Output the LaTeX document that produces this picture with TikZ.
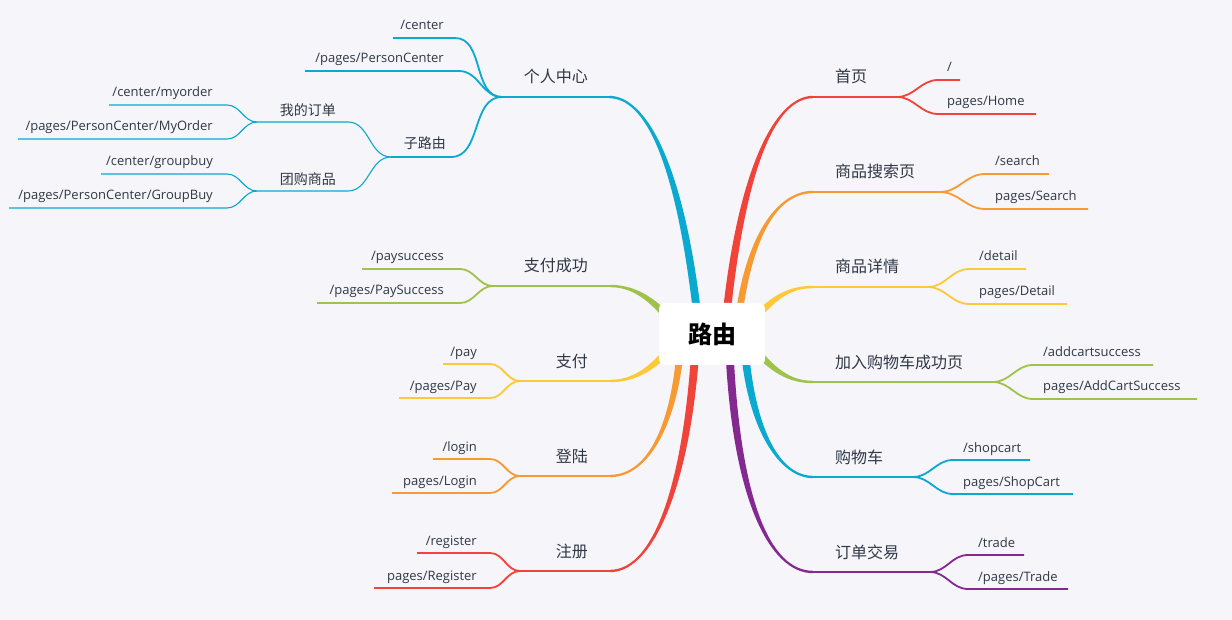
\documentclass[tikz,border=0pt]{standalone}
\usepackage{fontspec}
\setmainfont{Open Sans}
\newfontfamily\cjk{Noto Sans CJK SC}
\usetikzlibrary{calc}

\definecolor{bg}{HTML}{F5F5FA}
\definecolor{ink}{HTML}{303846}
\definecolor{cRed}{HTML}{F0433A}
\definecolor{cOrange}{HTML}{F79A32}
\definecolor{cYellow}{HTML}{FEC937}
\definecolor{cGreen}{HTML}{9FC34A}
\definecolor{cBlue}{HTML}{0AA9D0}
\definecolor{cPurple}{HTML}{84298F}

\tikzset{
  rootbox/.style={fill=white, rounded corners=6pt, minimum width=106pt, minimum height=62pt,
    font=\cjk\bfseries\fontsize{24}{26}\selectfont, text=black},
  topic/.style={font=\cjk\fontsize{16}{18}\selectfont, text=ink, inner sep=0pt, yshift=-2pt},
  subtopic/.style={font=\cjk\fontsize{14}{16}\selectfont, text=ink, inner sep=0pt, yshift=-2pt},
  leaf/.style={font=\fontsize{13}{15}\selectfont, text=ink, inner sep=0pt, yshift=-2pt},
  bar/.style={line width=2.3pt},
  twig/.style={line width=1.8pt},
  thin/.style={line width=1.1pt},
  rt/.style={out=0,in=180},
  lt/.style={out=180,in=0},
}

% tapered main branch: colour, from, start offset, c1, c2, to, end offset
\newcommand{\trunk}[7]{%
  \fill[#1] ($(#2)+(#3)$) .. controls ($(#4)+(#3)$) and ($(#5)+(#7)$) .. ($(#6)+(#7)$)
    -- ($(#6)-(#7)$) .. controls ($(#5)-(#7)$) and ($(#4)-(#3)$) .. ($(#2)-(#3)$) -- cycle;}

\begin{document}
\begin{tikzpicture}[x=1pt,y=-1pt]
\fill[bg] (0,0) rectangle (1232,620);
\useasboundingbox (0,0) rectangle (1232,620);

% left side
\coordinate (pc0) at (699,330); \coordinate (pc) at (609,97); \coordinate (pcE) at (502,97);
\coordinate (ps0) at (674,325); \coordinate (ps) at (610,286); \coordinate (psE) at (493,286);
\coordinate (py0) at (674,343); \coordinate (py) at (610,381); \coordinate (pyE) at (520,381);
\coordinate (lg0) at (681,340); \coordinate (lg) at (610,476); \coordinate (lgE) at (520,476);
\coordinate (rg0) at (696,340); \coordinate (rg) at (610,571); \coordinate (rgE) at (520,571);
\trunk{cBlue}{pc0}{4,0}{681,160}{645,97}{pc}{0,-1.2}
\trunk{cGreen}{ps0}{2.8,-2.2}{652,297}{632,286}{ps}{0,-1.2}
\trunk{cYellow}{py0}{-2.8,-2.2}{652,371}{632,381}{py}{0,-1.2}
\trunk{cOrange}{lg0}{-3.5,0}{676,420}{650,476}{lg}{0,-1.2}
\trunk{cRed}{rg0}{-4,0}{688,480}{655,571}{rg}{0,-1.2}

% right side
\coordinate (hm0) at (725,330); \coordinate (hm) at (813,97);  \coordinate (hmE) at (897,97);
\coordinate (sr0) at (737,330); \coordinate (sr) at (813,192); \coordinate (srE) at (940,192);
\coordinate (dt0) at (750,325); \coordinate (dt) at (813,287); \coordinate (dtE) at (928,287);
\coordinate (ac0) at (750,343); \coordinate (ac) at (813,382); \coordinate (acE) at (993,382);
\coordinate (sc0) at (744,340); \coordinate (sc) at (813,477); \coordinate (scE) at (913,477);
\coordinate (td0) at (729,340); \coordinate (td) at (813,572); \coordinate (tdE) at (930,572);
\trunk{cRed}{hm0}{4,0}{740,170}{775,97}{hm}{0,1.2}
\trunk{cOrange}{sr0}{3.5,0}{748,230}{780,192}{sr}{0,1.2}
\trunk{cYellow}{dt0}{2.8,2.2}{772,297}{790,287}{dt}{0,1.2}
\trunk{cGreen}{ac0}{-2.8,2.2}{772,371}{790,382}{ac}{0,1.2}
\trunk{cBlue}{sc0}{-4,0}{750,430}{780,477}{sc}{0,1.2}
\trunk{cPurple}{td0}{-4,0}{735,500}{770,572}{td}{0,1.2}

\node[rootbox] (root) at (712,334) {路由};

% 个人中心
\draw[bar,cBlue] (pc) -- (pcE);
\node[topic,anchor=base east] (pcT) at (588,81) {个人中心};
\coordinate (pc1) at (455,38); \coordinate (pc1e) at (393,38);
\coordinate (pc2) at (459,71); \coordinate (pc2e) at (305,71);
\draw[twig,cBlue] (pcE) to[lt] (pc1) -- (pc1e);
\draw[twig,cBlue] (pcE) to[lt] (pc2) -- (pc2e);
\node[leaf,anchor=base east] (pc1T) at (444,28) {/center};
\node[leaf,anchor=base east] (pc2T) at (444,61) {/pages/PersonCenter};
% 子路由
\coordinate (sub) at (451,157); \coordinate (subE) at (391,157);
\draw[twig,cBlue] (pcE) to[lt] (sub) -- (subE);
\node[subtopic,anchor=base east] (subT) at (446,147) {子路由};
\coordinate (mo) at (348,122); \coordinate (moE) at (257,122);
\coordinate (gb) at (348,191); \coordinate (gbE) at (257,191);
\draw[thin,cBlue] (subE) to[lt] (mo) -- (moE);
\draw[thin,cBlue] (subE) to[lt] (gb) -- (gbE);
\node[subtopic,anchor=base east] (moT) at (336,114) {我的订单};
\node[subtopic,anchor=base east] (gbT) at (336,183) {团购商品};
\coordinate (mo1) at (227,105); \coordinate (mo1e) at (109,105);
\coordinate (mo2) at (227,139); \coordinate (mo2e) at (18,139);
\coordinate (gb1) at (227,174); \coordinate (gb1e) at (101,174);
\coordinate (gb2) at (227,208); \coordinate (gb2e) at (9,208);
\draw[thin,cBlue] (moE) to[lt] (mo1) -- (mo1e);
\draw[thin,cBlue] (moE) to[lt] (mo2) -- (mo2e);
\draw[thin,cBlue] (gbE) to[lt] (gb1) -- (gb1e);
\draw[thin,cBlue] (gbE) to[lt] (gb2) -- (gb2e);
\node[leaf,anchor=base east] (mo1T) at (213,95) {/center/myorder};
\node[leaf,anchor=base east] (mo2T) at (213,129) {/pages/PersonCenter/MyOrder};
\node[leaf,anchor=base east] (gb1T) at (213,164) {/center/groupbuy};
\node[leaf,anchor=base east] (gb2T) at (213,198) {/pages/PersonCenter/GroupBuy};

% 支付成功
\draw[bar,cGreen] (ps) -- (psE);
\node[topic,anchor=base east] (psT) at (588,270) {支付成功};
\coordinate (ps1) at (460,269); \coordinate (ps1e) at (362,269);
\coordinate (ps2) at (460,303); \coordinate (ps2e) at (317,303);
\draw[twig,cGreen] (psE) to[lt] (ps1) -- (ps1e);
\draw[twig,cGreen] (psE) to[lt] (ps2) -- (ps2e);
\node[leaf,anchor=base east] (ps1T) at (444,259) {/paysuccess};
\node[leaf,anchor=base east] (ps2T) at (444,293) {/pages/PaySuccess};

% 支付
\draw[bar,cYellow] (py) -- (pyE);
\node[topic,anchor=base east] (pyT) at (588,365) {支付};
\coordinate (py1) at (490,364); \coordinate (py1e) at (443,364);
\coordinate (py2) at (490,398); \coordinate (py2e) at (399,398);
\draw[twig,cYellow] (pyE) to[lt] (py1) -- (py1e);
\draw[twig,cYellow] (pyE) to[lt] (py2) -- (py2e);
\node[leaf,anchor=base east] (py1T) at (477,354) {/pay};
\node[leaf,anchor=base east] (py2T) at (477,388) {/pages/Pay};

% 登陆
\draw[bar,cOrange] (lg) -- (lgE);
\node[topic,anchor=base east] (lgT) at (588,460) {登陆};
\coordinate (lg1) at (490,459); \coordinate (lg1e) at (433,459);
\coordinate (lg2) at (490,493); \coordinate (lg2e) at (392,493);
\draw[twig,cOrange] (lgE) to[lt] (lg1) -- (lg1e);
\draw[twig,cOrange] (lgE) to[lt] (lg2) -- (lg2e);
\node[leaf,anchor=base east] (lg1T) at (477,449) {/login};
\node[leaf,anchor=base east] (lg2T) at (477,483) {pages/Login};

% 注册
\draw[bar,cRed] (rg) -- (rgE);
\node[topic,anchor=base east] (rgT) at (588,555) {注册};
\coordinate (rg1) at (490,553); \coordinate (rg1e) at (417,553);
\coordinate (rg2) at (490,588); \coordinate (rg2e) at (374,588);
\draw[twig,cRed] (rgE) to[lt] (rg1) -- (rg1e);
\draw[twig,cRed] (rgE) to[lt] (rg2) -- (rg2e);
\node[leaf,anchor=base east] (rg1T) at (477,543) {/register};
\node[leaf,anchor=base east] (rg2T) at (477,578) {pages/Register};

% 首页
\draw[bar,cRed] (hm) -- (hmE);
\node[topic,anchor=base west] (hmT) at (835,81) {首页};
\coordinate (hm1) at (938,80);  \coordinate (hm1e) at (960,80);
\coordinate (hm2) at (938,114); \coordinate (hm2e) at (1036,114);
\draw[twig,cRed] (hmE) to[rt] (hm1) -- (hm1e);
\draw[twig,cRed] (hmE) to[rt] (hm2) -- (hm2e);
\node[leaf,anchor=base west] (hm1T) at (947,70) {/};
\node[leaf,anchor=base west] (hm2T) at (947,104) {pages/Home};

% 商品搜索页
\draw[bar,cOrange] (sr) -- (srE);
\node[topic,anchor=base west] (srT) at (835,176) {商品搜索页};
\coordinate (sr1) at (985,174); \coordinate (sr1e) at (1049,174);
\coordinate (sr2) at (985,209); \coordinate (sr2e) at (1088,209);
\draw[twig,cOrange] (srE) to[rt] (sr1) -- (sr1e);
\draw[twig,cOrange] (srE) to[rt] (sr2) -- (sr2e);
\node[leaf,anchor=base west] (sr1T) at (995,164) {/search};
\node[leaf,anchor=base west] (sr2T) at (995,199) {pages/Search};

% 商品详情
\draw[bar,cYellow] (dt) -- (dtE);
\node[topic,anchor=base west] (dtT) at (835,271) {商品详情};
\coordinate (dt1) at (969,269); \coordinate (dt1e) at (1026,269);
\coordinate (dt2) at (969,304); \coordinate (dt2e) at (1067,304);
\draw[twig,cYellow] (dtE) to[rt] (dt1) -- (dt1e);
\draw[twig,cYellow] (dtE) to[rt] (dt2) -- (dt2e);
\node[leaf,anchor=base west] (dt1T) at (979,259) {/detail};
\node[leaf,anchor=base west] (dt2T) at (979,294) {pages/Detail};

% 加入购物车成功页
\draw[bar,cGreen] (ac) -- (acE);
\node[topic,anchor=base west] (acT) at (835,366) {加入购物车成功页};
\coordinate (ac1) at (1033,365); \coordinate (ac1e) at (1153,365);
\coordinate (ac2) at (1033,399); \coordinate (ac2e) at (1197,399);
\draw[twig,cGreen] (acE) to[rt] (ac1) -- (ac1e);
\draw[twig,cGreen] (acE) to[rt] (ac2) -- (ac2e);
\node[leaf,anchor=base west] (ac1T) at (1043,355) {/addcartsuccess};
\node[leaf,anchor=base west] (ac2T) at (1043,389) {pages/AddCartSuccess};

% 购物车
\draw[bar,cBlue] (sc) -- (scE);
\node[topic,anchor=base west] (scT) at (835,461) {购物车};
\coordinate (sc1) at (953,460); \coordinate (sc1e) at (1030,460);
\coordinate (sc2) at (953,494); \coordinate (sc2e) at (1073,494);
\draw[twig,cBlue] (scE) to[rt] (sc1) -- (sc1e);
\draw[twig,cBlue] (scE) to[rt] (sc2) -- (sc2e);
\node[leaf,anchor=base west] (sc1T) at (963,450) {/shopcart};
\node[leaf,anchor=base west] (sc2T) at (963,484) {pages/ShopCart};

% 订单交易
\draw[bar,cPurple] (td) -- (tdE);
\node[topic,anchor=base west] (tdT) at (835,556) {订单交易};
\coordinate (td1) at (968,555); \coordinate (td1e) at (1024,555);
\coordinate (td2) at (968,589); \coordinate (td2e) at (1068,589);
\draw[twig,cPurple] (tdE) to[rt] (td1) -- (td1e);
\draw[twig,cPurple] (tdE) to[rt] (td2) -- (td2e);
\node[leaf,anchor=base west] (td1T) at (978,545) {/trade};
\node[leaf,anchor=base west] (td2T) at (978,579) {/pages/Trade};
\end{tikzpicture}
\end{document}
